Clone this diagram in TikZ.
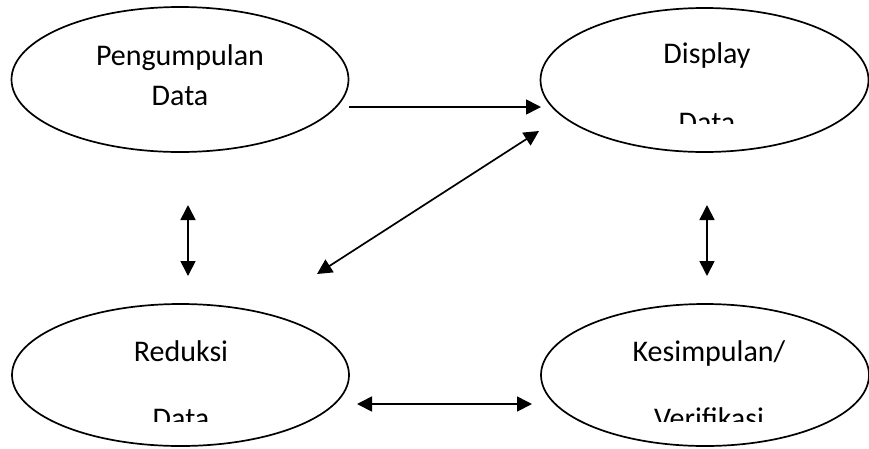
\documentclass[tikz,border=0pt]{standalone}
\usepackage{fontspec}
\setmainfont{Carlito}
\usetikzlibrary{arrows.meta,shapes.geometric}
\tikzset{
  proc/.style={draw, ellipse, line width=1.7pt, inner sep=0pt},
  lbl/.style={anchor=base, inner sep=0pt, font=\fontsize{30}{36}\selectfont},
  tip/.style={-{Triangle[length=15pt,width=15pt]}, line width=1.7pt},
  dtip/.style={{Triangle[length=15pt,width=15pt]}-{Triangle[length=15pt,width=15pt]}, line width=1.7pt}
}
\begin{document}
\begin{tikzpicture}[x=1pt,y=-1pt]
  \useasboundingbox (0,0) rectangle (869,448);
  \draw
    (180,79.5) node[proc, minimum width=337pt, minimum height=145pt] (pd){}
    (704.5,80) node[proc, minimum width=328pt, minimum height=144pt] (dd){}
    (180.5,375) node[proc, minimum width=337pt, minimum height=142pt] (rd){}
    (705,375) node[proc, minimum width=328pt, minimum height=142pt] (kv){};
  % text in the ellipses
  \node[lbl] (pdt1) at (180,65) {Pengumpulan};
  \node[lbl] (pdt2) at (180,105) {Data};
  \node[lbl] (ddt1) at (707,63) {Display};
  \node[lbl] (rdt1) at (181,361) {Reduksi};
  \node[lbl] (kvt1) at (709,361) {Kesimpulan/};
  \begin{scope}
    \clip (540,0) rectangle (869,123);
    \node[lbl] (ddt2) at (707,132) {Data};
  \end{scope}
  \begin{scope}
    \clip (0,300) rectangle (869,421);
    \node[lbl] (rdt2) at (181,428) {Data};
    \node[lbl] (kvt2) at (709,428) {Verifikasi};
  \end{scope}
  % free ends of the arrows
  \coordinate (h1) at (349,107);
  \coordinate (h2) at (541,107);
  \coordinate (d1) at (317,274);
  \coordinate (d2) at (539,131);
  \coordinate (l1) at (188,205);
  \coordinate (l2) at (188,276);
  \coordinate (r1) at (707,205);
  \coordinate (r2) at (707,276);
  \coordinate (b1) at (357,404);
  \coordinate (b2) at (532,404);
  \begin{scope}
    \draw[tip] (h1) to (h2);
    \draw[dtip] (d1) to (d2);
    \draw[dtip] (l1) to (l2);
    \draw[dtip] (r1) to (r2);
    \draw[dtip] (b1) to (b2);
  \end{scope}
\end{tikzpicture}
\end{document}
